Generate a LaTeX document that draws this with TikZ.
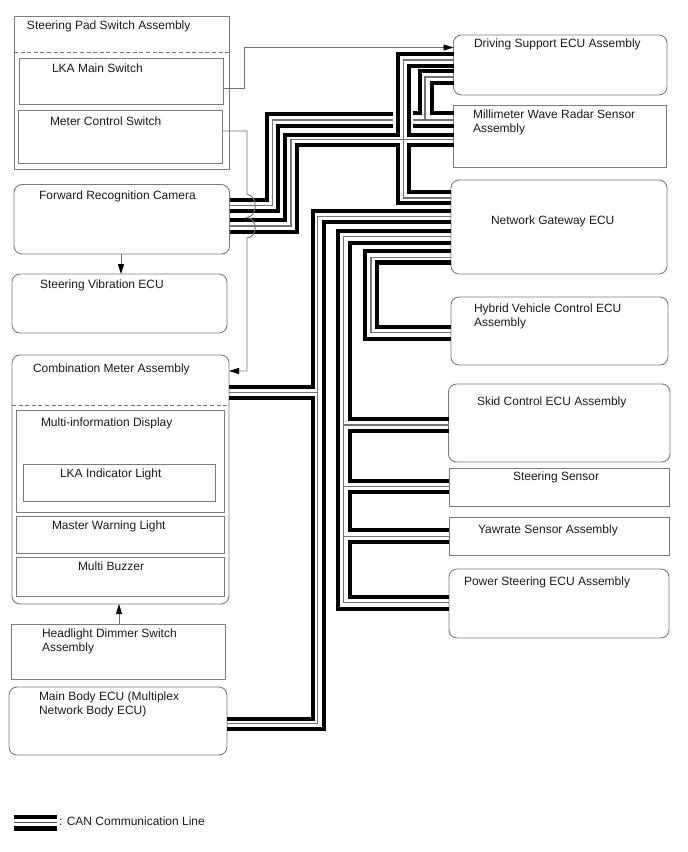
\documentclass[tikz,border=0pt]{standalone}
\usepackage{fontspec}
\setmainfont{Liberation Sans}
\usetikzlibrary{arrows.meta}
\tikzset{
  x=1pt,y=-1pt,
  boxline/.style={draw=black!52,line width=0.9pt,inner sep=0pt,outer sep=0pt,anchor=north west},
  sharpbox/.style={boxline},
  roundbox/.style={boxline,rounded corners=8pt},
  caption/.style={anchor=base west,inner sep=0pt,outer sep=0pt,font=\fontsize{12}{14}\selectfont,text=black!90,align=left},
  canouter/.style={draw=black,line width=4.3pt,miter limit=10},
  cancore/.style={draw=black!55,line width=1.3pt},
  signal/.style={draw=black!55,line width=0.9pt},
  sigarrow/.style={signal,-{Triangle[length=10pt,width=6pt,black]}},
  divider/.style={draw=black!55,line width=0.8pt,dash pattern=on 4pt off 2.6pt},
}
% box given by its two corners
\newcommand{\ecubox}[6]{%
  \node[#1,minimum width={(#5-#3)*1pt},minimum height={(#6-#4)*1pt}] (#2) at (#3,#4) {};}
\begin{document}
\begin{tikzpicture}
\useasboundingbox (0,0) rectangle (688,852);

% switches and ECUs on the left
\ecubox{sharpbox}{pad}{14}{16}{229}{169}
\ecubox{sharpbox}{lka}{19}{58}{223}{104}
\ecubox{sharpbox}{meterswitch}{18}{110}{222}{163}
\ecubox{roundbox}{camera}{14}{184.5}{229.5}{254}
\ecubox{roundbox}{vibration}{12}{274}{227}{333}
\ecubox{roundbox}{meter}{12}{355}{229}{604}
\ecubox{sharpbox}{mid}{16}{410}{224}{512}
\ecubox{sharpbox}{indicator}{23}{464}{215}{501}
\ecubox{sharpbox}{warning}{16}{516}{224}{553}
\ecubox{sharpbox}{buzzer}{16}{557}{224}{596}
\ecubox{sharpbox}{dimmer}{11}{624}{225}{679}
\ecubox{roundbox}{body}{9}{687}{227}{755}

% units on the right
\ecubox{roundbox}{driving}{453.5}{35}{667}{95}
\ecubox{sharpbox}{radar}{453.5}{105}{666}{167}
\ecubox{roundbox}{gateway}{451}{180}{667}{274}
\ecubox{roundbox}{hybrid}{451}{297}{668}{365}
\ecubox{roundbox}{skid}{448.5}{384}{670}{462}
\ecubox{sharpbox}{sensor}{449}{468}{669}{506}
\ecubox{sharpbox}{yawrate}{449}{517}{669}{555}
\ecubox{roundbox}{power}{449}{569}{669}{638}

% dashed separators
\draw[divider] (pad.west |- 0,52) -- (pad.east |- 0,52);
\draw[divider] (meter.west |- 0,405) -- (meter.east |- 0,405);

% captions
\node[caption] (t1) at (27,29) {Steering Pad Switch Assembly};
\node[caption] (t2) at (52,72) {LKA Main Switch};
\node[caption] (t3) at (50,125) {Meter Control Switch};
\node[caption] (t4) at (39,199) {Forward Recognition Camera};
\node[caption] (t5) at (40,288) {Steering Vibration ECU};
\node[caption] (t6) at (33,372) {Combination Meter Assembly};
\node[caption] (t7) at (41,426) {Multi-information Display};
\node[caption] (t8) at (60,477) {LKA Indicator Light};
\node[caption] (t9) at (52,529) {Master Warning Light};
\node[caption] (t10) at (78,570) {Multi Buzzer};
\node[caption] (t11) at (42,651) {Headlight Dimmer Switch\\Assembly};
\node[caption] (t12) at (39,714) {Main Body ECU (Multiplex\\Network Body ECU)};
\node[caption] (t13) at (474,47) {Driving Support ECU Assembly};
\node[caption] (t14) at (473,132) {Millimeter Wave Radar Sensor\\Assembly};
\node[caption] (t15) at (491,224) {Network Gateway ECU};
\node[caption] (t16) at (474,326) {Hybrid Vehicle Control ECU\\Assembly};
\node[caption] (t17) at (477,405) {Skid Control ECU Assembly};
\node[caption] (t18) at (513,480) {Steering Sensor};
\node[caption] (t19) at (478,533) {Yawrate Sensor Assembly};
\node[caption] (t20) at (464,585) {Power Steering ECU Assembly};
\node[caption] (t21) at (59,825) {: CAN Communication Line};

% CAN: camera to the central junction
\draw[canouter] (camera.east |- 0,200) -| (267,114) -- (393,114);
\draw[cancore]  (camera.east |- 0,205.5) -| (272.7,120) -- (393,120);
\draw[canouter] (camera.east |- 0,211) -| (278,126) -- (393,126);
\draw[canouter] (camera.east |- 0,220) -| (285.3,135) -- (397.7,135) |- (driving.west |- 0,54);
\draw[cancore]  (camera.east |- 0,226) -| (291,139.5) -- (radar.west |- 0,139.5);
\draw[canouter] (camera.east |- 0,232) -| (297,145) -- (397.7,145) |- (gateway.west |- 0,203);

% CAN: junction to driving support, radar and gateway
\draw[canouter] (radar.west |- 0,135) -| (409.3,66) -- (driving.west |- 0,66);
\draw[cancore]  (gateway.west |- 0,198) -| (403.5,60) -- (driving.west |- 0,60);
\draw[canouter] (radar.west |- 0,145) -| (409.3,192) -- (gateway.west |- 0,192);

% CAN: driving support to radar
\draw[canouter] (driving.west |- 0,71) -| (419.7,113) -- (413,113);
\draw[cancore]  (driving.west |- 0,77) -| (425,120);
\draw[cancore]  (413,120) -- (radar.west |- 0,120);
\draw[canouter] (driving.west |- 0,83) -| (432,113) -- (radar.west |- 0,113);
\draw[canouter] (413,126) -- (radar.west |- 0,126);

% CAN: gateway to combination meter and main body
\draw[canouter] (gateway.west |- 0,211) -| (312.7,387) -- (meter.east |- 0,387);
\draw[cancore]  (gateway.west |- 0,216.7) -| (317.7,723.5) -- (body.east |- 0,723.5);
\draw[cancore]  (317.7,392.7) -- (meter.east |- 0,392.7);
\draw[canouter] (meter.east |- 0,398) -| (312.7,719) -- (body.east |- 0,719);
\draw[canouter] (gateway.west |- 0,222) -| (324,729) -- (body.east |- 0,729);

% CAN: gateway to the chassis units
\draw[canouter] (gateway.west |- 0,231.3) -| (337.7,609) -- (power.west |- 0,609);
\draw[cancore]  (gateway.west |- 0,236.7) -| (343.3,602.3) -- (power.west |- 0,602.3);
\draw[canouter] (gateway.west |- 0,242.7) -| (349.7,419.3) -- (skid.west |- 0,419.3);
\draw[cancore]  (343.3,425) -- (skid.west |- 0,425);
\draw[canouter] (skid.west |- 0,431) -| (349.7,481) -- (sensor.west |- 0,481);
\draw[cancore]  (343.3,486.7) -- (sensor.west |- 0,486.7);
\draw[canouter] (sensor.west |- 0,492.3) -| (349.7,530) -- (yawrate.west |- 0,530);
\draw[cancore]  (343.3,536.7) -- (yawrate.west |- 0,536.7);
\draw[canouter] (yawrate.west |- 0,542) -| (349.7,597.3) -- (power.west |- 0,597.3);

% CAN: gateway to hybrid control
\draw[canouter] (gateway.west |- 0,251) -| (365.3,339) -- (hybrid.west |- 0,339);
\draw[cancore]  (gateway.west |- 0,257.3) -| (371,332.7) -- (hybrid.west |- 0,332.7);
\draw[canouter] (gateway.west |- 0,262.5) -| (377.3,327) -- (hybrid.west |- 0,327);

% signal lines, hopping over the camera bundles
\draw[sigarrow] (lka.east |- 0,88.5) -| (244,47.5) -- (driving.west |- 0,47.5);
\draw[sigarrow] (meterswitch.east |- 0,131) -| (247,194)
  .. controls (258,196) and (258,216) .. (247,217.5)
  .. controls (258,219) and (258,237) .. (247,238)
  |- (meter.east |- 0,371);
\draw[sigarrow] (camera.south -| 121,0) -- (vibration.north -| 121,0);
\draw[sigarrow] (dimmer.north -| 119,0) -- (meter.south -| 119,0);

% legend sample
\coordinate (keyL) at (13.5,822.7);
\coordinate (keyR) at (56.5,822.7);
\draw[canouter] ([yshift=-5.7pt]keyL) -- ([yshift=-5.7pt]keyR);
\draw[cancore,draw=black!70]  (keyL) -- (keyR);
\draw[canouter] ([yshift=5.7pt]keyL) -- ([yshift=5.7pt]keyR);
\end{tikzpicture}
\end{document}
